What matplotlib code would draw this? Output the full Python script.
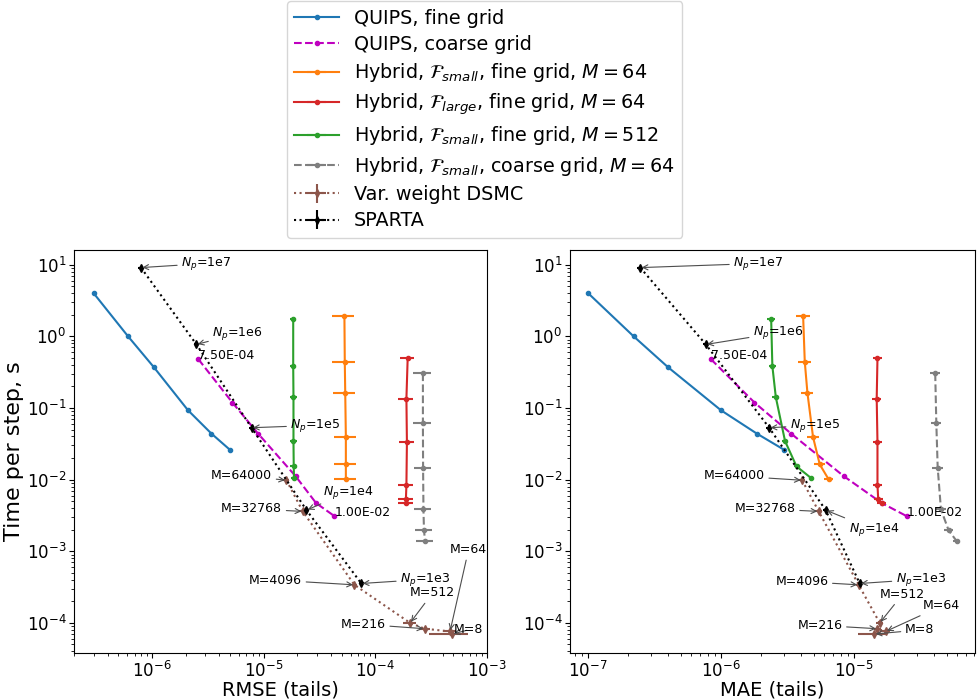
"""Cost versus accuracy of the QUIPS, hybrid and DSMC solvers."""

import matplotlib

matplotlib.use("Agg")

import matplotlib.pyplot as plt

# QUIPS on the fine grid
quips_fine_time = [4.0, 1.0, 0.37, 0.093, 0.044, 0.026]
quips_fine_rmse = [3.0e-7, 6.1e-7, 1.04e-6, 2.1e-6, 3.4e-6, 5.0e-6]
quips_fine_mae = [1.0e-7, 2.2e-7, 4.0e-7, 1.0e-6, 1.86e-6, 3.0e-6]

# QUIPS on the coarse grid, first and last point labelled with the step size
quips_coarse_time = [0.48, 0.119, 0.044, 0.0112, 0.0047, 0.0031]
quips_coarse_rmse = [2.6e-6, 5.25e-6, 8.9e-6, 1.93e-5, 2.95e-5, 4.3e-5]
quips_coarse_mae = [8.4e-7, 1.79e-6, 3.37e-6, 8.4e-6, 1.63e-5, 2.5e-5]
quips_coarse_tags = ["7.50E-04", "1.00E-02"]

# hybrid, F_small, fine grid, M=64
hyb_small_time = [1.92, 0.444, 0.164, 0.0393, 0.0163, 0.0101]
hyb_small_rmse = [5.29e-5, 5.33e-5, 5.38e-5, 5.45e-5, 5.45e-5, 5.45e-5]
hyb_small_rmse_err = [1.2e-5, 1.2e-5, 1.2e-5, 1.2e-5, 1.2e-5, 1.2e-5]
hyb_small_mae = [4.16e-6, 4.28e-6, 4.48e-6, 4.94e-6, 5.55e-6, 6.47e-6]
hyb_small_mae_err = [5e-7, 5e-7, 5e-7, 5e-7, 5e-7, 5e-7]

# hybrid, F_large, fine grid, M=64
hyb_large_time = [0.493, 0.135, 0.0334, 0.0084, 0.0053, 0.00466]
hyb_large_rmse = [1.95e-4, 1.9e-4, 1.92e-4, 1.9e-4, 1.88e-4, 1.9e-4]
hyb_large_rmse_err = [2.9e-5, 2.9e-5, 2.9e-5, 2.9e-5, 2.9e-5, 2.9e-5]
hyb_large_mae = [1.51e-5, 1.49e-5, 1.51e-5, 1.51e-5, 1.53e-5, 1.63e-5]
hyb_large_mae_err = [1.2e-6, 1.2e-6, 1.2e-6, 1.2e-6, 1.2e-6, 1.2e-6]

# hybrid, F_small, fine grid, M=512
hyb_m512_time = [1.75, 0.385, 0.142, 0.0345, 0.0153, 0.0106]
hyb_m512_rmse = [1.84e-5, 1.84e-5, 1.85e-5, 1.85e-5, 1.86e-5, 1.87e-5]
hyb_m512_rmse_err = [1.2e-6, 1.2e-6, 1.2e-6, 1.2e-6, 1.2e-6, 1.2e-6]
hyb_m512_mae = [2.39e-6, 2.44e-6, 2.59e-6, 3.04e-6, 3.71e-6, 4.75e-6]
hyb_m512_mae_err = [1.5e-7, 1.5e-7, 1.5e-7, 1.5e-7, 1.5e-7, 1.5e-7]

# hybrid, F_small, coarse grid, M=64
hyb_coarse_time = [0.304, 0.061, 0.0147, 0.00384, 0.00197, 0.00138]
hyb_coarse_rmse = [2.67e-4, 2.67e-4, 2.68e-4, 2.7e-4, 2.73e-4, 2.79e-4]
hyb_coarse_rmse_err = [4.8e-5, 4.8e-5, 4.8e-5, 4.8e-5, 4.8e-5, 4.8e-5]
hyb_coarse_mae = [4.11e-5, 4.19e-5, 4.29e-5, 4.54e-5, 5.18e-5, 5.97e-5]
hyb_coarse_mae_err = [3.8e-6, 3.8e-6, 3.8e-6, 3.8e-6, 3.8e-6, 3.8e-6]

# variable weight DSMC
dsmc_m = ["64000", "32768", "4096", "512", "216", "64", "8"]
dsmc_time = [9.8e-3, 3.6e-3, 3.4e-4, 1.0e-4, 8.3e-5, 7.6e-5, 7.0e-5]
dsmc_time_err = [6e-4, 2.5e-4, 2.5e-5, 7e-6, 6e-6, 5e-6, 5e-6]
dsmc_rmse = [1.6e-5, 2.24e-5, 6.5e-5, 2.05e-4, 2.77e-4, 4.67e-4, 4.9e-4]
dsmc_rmse_err = [1e-6, 1.5e-6, 3e-6, 2.7e-5, 3e-5, 6e-5, 1.85e-4]
dsmc_mae = [4.09e-6, 5.45e-6, 1.09e-5, 1.57e-5, 1.51e-5, 1.74e-5, 1.43e-5]
dsmc_mae_err = [2e-7, 3e-7, 5e-7, 1.0e-6, 1.0e-6, 1.5e-6, 3.5e-6]

# SPARTA reference runs
sparta_np = ["1e7", "1e6", "1e5", "1e4", "1e3"]
sparta_time = [9.1, 0.77, 0.053, 0.00375, 3.55e-4]
sparta_time_err = [0.6, 0.05, 0.004, 2.5e-4, 2.5e-5]
sparta_rmse = [7.97e-7, 2.5e-6, 7.8e-6, 2.42e-5, 7.5e-5]
sparta_rmse_err = [4e-8, 1.2e-7, 4e-7, 1.2e-6, 4e-6]
sparta_mae = [2.47e-7, 7.7e-7, 2.31e-6, 6.15e-6, 1.11e-5]
sparta_mae_err = [1.2e-8, 4e-8, 1.2e-7, 3e-7, 6e-7]

# label offsets (points) and alignment for each annotated point
SPARTA_OFFSETS = {
    "rmse": [(29, 3), (11.5, 7.7), (28, 1.7), (11.7, 13), (28, 3)],
    "mae": [(67, 3), (34, 8.4), (15, 1.7), (16.5, -14), (26, 3)],
}
DSMC_OFFSETS = {
    "rmse": [(-10.3, 3.4, "right"), (-14.8, 1.9, "right"), (-37.7, 3.4, "right"),
             (0, 21.6, "left"), (-28, 3.2, "right"), (0, 59, "left"), (0.7, 2.9, "left")],
    "mae": [(-26.9, 3.1, "right"), (-16.6, 1.9, "right"), (-21.8, 2.4, "right"),
            (0.3, 20.7, "left"), (-25.2, 2.4, "right"), (27, 18.4, "left"), (22, 2.9, "left")],
}

ARROW = dict(arrowstyle="->", color="0.3", lw=0.8, shrinkA=1, shrinkB=1)


def draw_panel(ax, metric):
    """Draw every series against one error measure."""
    if metric == "rmse":
        qf, qc = quips_fine_rmse, quips_coarse_rmse
        hs, hs_e = hyb_small_rmse, hyb_small_rmse_err
        hl, hl_e = hyb_large_rmse, hyb_large_rmse_err
        hm, hm_e = hyb_m512_rmse, hyb_m512_rmse_err
        hc, hc_e = hyb_coarse_rmse, hyb_coarse_rmse_err
        ds, ds_e = dsmc_rmse, dsmc_rmse_err
        sp, sp_e = sparta_rmse, sparta_rmse_err
    else:
        qf, qc = quips_fine_mae, quips_coarse_mae
        hs, hs_e = hyb_small_mae, hyb_small_mae_err
        hl, hl_e = hyb_large_mae, hyb_large_mae_err
        hm, hm_e = hyb_m512_mae, hyb_m512_mae_err
        hc, hc_e = hyb_coarse_mae, hyb_coarse_mae_err
        ds, ds_e = dsmc_mae, dsmc_mae_err
        sp, sp_e = sparta_mae, sparta_mae_err

    ax.plot(qf, quips_fine_time, ".-", color="C0", label="QUIPS, fine grid")
    ax.plot(qc, quips_coarse_time, ".--", color="m", label="QUIPS, coarse grid")
    ax.errorbar(hs, hyb_small_time, xerr=hs_e, fmt=".-", color="C1",
                label=r"Hybrid, $\mathcal{F}_{small}$, fine grid, $M=64$")
    ax.errorbar(hl, hyb_large_time, xerr=hl_e, fmt=".-", color="C3",
                label=r"Hybrid, $\mathcal{F}_{large}$, fine grid, $M=64$")
    ax.errorbar(hm, hyb_m512_time, xerr=hm_e, fmt=".-", color="C2",
                label=r"Hybrid, $\mathcal{F}_{small}$, fine grid, $M=512$")
    ax.errorbar(hc, hyb_coarse_time, xerr=hc_e, fmt=".--", color="C7",
                label=r"Hybrid, $\mathcal{F}_{small}$, coarse grid, $M=64$")
    ax.errorbar(ds, dsmc_time, xerr=ds_e, yerr=dsmc_time_err, fmt="d:", color="C5",
                markersize=4, label="Var. weight DSMC")
    ax.errorbar(sp, sparta_time, xerr=sp_e, yerr=sparta_time_err, fmt="d:", color="k",
                markersize=4, label="SPARTA")

    for tag, idx in zip(quips_coarse_tags, [0, -1]):
        ax.text(qc[idx], quips_coarse_time[idx], tag, fontsize=9)

    for x, y, n, (dx, dy) in zip(sp, sparta_time, sparta_np, SPARTA_OFFSETS[metric]):
        ax.annotate(f"$N_p$={n}", (x, y), xytext=(dx, dy), textcoords="offset points",
                    ha="left", va="center", fontsize=9, arrowprops=ARROW)
    for x, y, m, (dx, dy, ha) in zip(ds, dsmc_time, dsmc_m, DSMC_OFFSETS[metric]):
        ax.annotate(f"M={m}", (x, y), xytext=(dx, dy), textcoords="offset points",
                    ha=ha, va="center", fontsize=9, arrowprops=ARROW)

    ax.set_xscale("log")
    ax.set_yscale("log")
    ax.set_ylim(3.8e-5, 16)
    ax.tick_params(labelsize=12, pad=2)


fig = plt.figure(figsize=(9.77, 7.0), dpi=100)
ax_rmse = fig.add_axes([0.0757, 0.0671, 0.4227, 0.5757])
ax_mae = fig.add_axes([0.5834, 0.0671, 0.4146, 0.5757])

draw_panel(ax_rmse, "rmse")
draw_panel(ax_mae, "mae")

ax_rmse.set_xlim(2.0e-7, 1.0e-3)
ax_mae.set_xlim(7.3e-8, 8.2e-5)
ax_rmse.set_xlabel("RMSE (tails)", fontsize=14, labelpad=0)
ax_mae.set_xlabel("MAE (tails)", fontsize=14, labelpad=0)
ax_rmse.set_ylabel("Time per step, s", fontsize=16, labelpad=2)

handles, labels = ax_rmse.get_legend_handles_labels()
fig.legend(handles, labels, loc="upper center", bbox_to_anchor=(0.496, 1.012),
           fontsize=13.8, handlelength=2.3, labelspacing=0.38)

fig.savefig("out.png", dpi=100)
